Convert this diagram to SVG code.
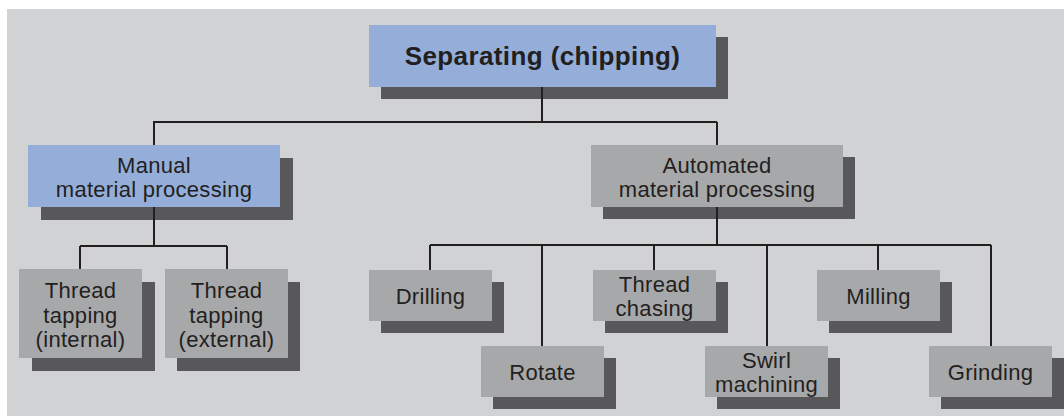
<svg xmlns="http://www.w3.org/2000/svg" width="1064" height="417" viewBox="0 0 1064 417">
  <style>
    .shadow { fill: #58585a; }
    .blue { fill: #94aed9; }
    .grey { fill: #a7a8aa; }
    .lbl { font-family: "Liberation Sans", Arial, sans-serif; font-size: 22px; fill: #231f20; text-anchor: middle; letter-spacing: 0.3px; }
    .title { font-family: "Liberation Sans", Arial, sans-serif; font-size: 26px; font-weight: bold; fill: #231f20; text-anchor: middle; letter-spacing: 0.4px; }
    .conn { fill: none; stroke: #231f20; stroke-width: 2; }
  </style>

  <!-- panel background -->
  <rect x="7" y="9" width="1057" height="407" fill="#d1d2d4"/>

  <!-- root -->
  <g id="separating">
    <rect class="shadow" x="381" y="37" width="347" height="62"/>
    <rect class="blue" x="369" y="25" width="347" height="62"/>
    <text class="title" x="542.5" y="65">Separating (chipping)</text>
  </g>

  <!-- second level -->
  <g id="manual">
    <rect class="shadow" x="41" y="158" width="252" height="62"/>
    <rect class="blue" x="28" y="145" width="252" height="62"/>
    <text class="lbl" x="154" y="172.5">Manual</text>
    <text class="lbl" x="154" y="196.5">material processing</text>
  </g>
  <g id="automated">
    <rect class="shadow" x="603" y="157" width="252" height="62"/>
    <rect class="grey" x="591" y="145" width="252" height="62"/>
    <text class="lbl" x="717" y="172.5">Automated</text>
    <text class="lbl" x="717" y="196.5">material processing</text>
  </g>

  <!-- manual children -->
  <g id="tapping-internal">
    <rect class="shadow" x="32" y="282" width="123" height="89"/>
    <rect class="grey" x="19" y="269" width="123" height="89"/>
    <text class="lbl" x="80.5" y="298">Thread</text>
    <text class="lbl" x="80.5" y="322.5">tapping</text>
    <text class="lbl" x="80.5" y="346.5">(internal)</text>
  </g>
  <g id="tapping-external">
    <rect class="shadow" x="177" y="282" width="123" height="89"/>
    <rect class="grey" x="165" y="269" width="123" height="89"/>
    <text class="lbl" x="226.5" y="298">Thread</text>
    <text class="lbl" x="226.5" y="322.5">tapping</text>
    <text class="lbl" x="226.5" y="346.5">(external)</text>
  </g>

  <!-- automated children -->
  <g id="drilling">
    <rect class="shadow" x="381" y="282" width="123" height="51"/>
    <rect class="grey" x="369" y="270" width="123" height="51"/>
    <text class="lbl" x="430.5" y="304">Drilling</text>
  </g>
  <g id="rotate">
    <rect class="shadow" x="493" y="358" width="123" height="51"/>
    <rect class="grey" x="481" y="346" width="123" height="51"/>
    <text class="lbl" x="542.5" y="380">Rotate</text>
  </g>
  <g id="thread-chasing">
    <rect class="shadow" x="605" y="282" width="123" height="51"/>
    <rect class="grey" x="593" y="270" width="123" height="51"/>
    <text class="lbl" x="654.5" y="291.5">Thread</text>
    <text class="lbl" x="654.5" y="316">chasing</text>
  </g>
  <g id="swirl">
    <rect class="shadow" x="717" y="358" width="123" height="51"/>
    <rect class="grey" x="705" y="346" width="123" height="51"/>
    <text class="lbl" x="766.5" y="368">Swirl</text>
    <text class="lbl" x="766.5" y="392">machining</text>
  </g>
  <g id="milling">
    <rect class="shadow" x="829" y="282" width="123" height="51"/>
    <rect class="grey" x="817" y="270" width="123" height="51"/>
    <text class="lbl" x="878.5" y="304">Milling</text>
  </g>
  <g id="grinding">
    <rect class="shadow" x="941" y="358" width="123" height="51"/>
    <rect class="grey" x="929" y="346" width="123" height="51"/>
    <text class="lbl" x="990.5" y="380">Grinding</text>
  </g>

  <!-- connectors -->
  <g id="connectors" class="conn">
    <path d="M542 87 V122 M153 122 H717 M154 122 V145 M717 122 V145"/>
    <path d="M154 207 V246 M80 246 H227 M80 246 V269 M227 246 V269"/>
    <path d="M717 207 V245 M430 245 H991 M430 245 V270 M542 245 V346 M654 245 V270 M767 245 V346 M878 245 V270 M991 245 V346"/>
  </g>
</svg>
